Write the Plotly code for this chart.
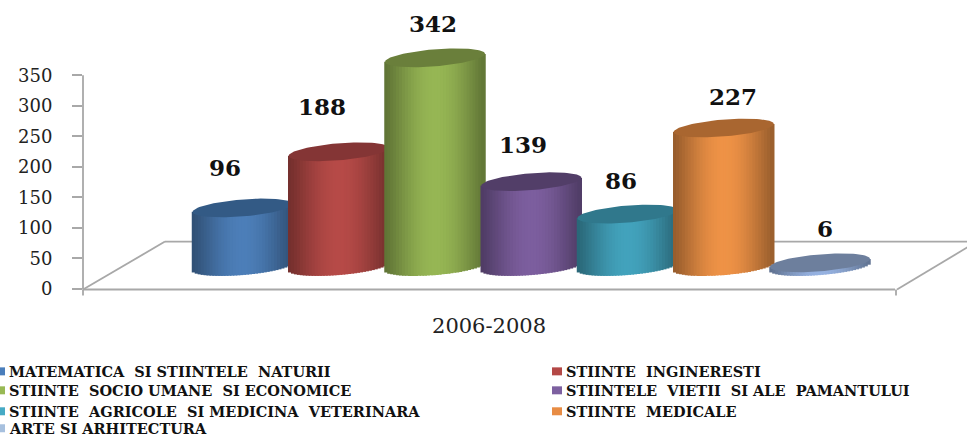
import numpy as np
import plotly.graph_objects as go

# ---------- data ----------
categories = [
    "MATEMATICA  SI STIINTELE  NATURII",
    "STIINTE  INGINERESTI",
    "STIINTE  SOCIO UMANE  SI ECONOMICE",
    "STIINTELE  VIETII  SI ALE  PAMANTULUI",
    "STIINTE  AGRICOLE  SI MEDICINA  VETERINARA",
    "STIINTE  MEDICALE",
    "ARTE SI ARHITECTURA",
]
values = [96, 188, 342, 139, 86, 227, 6]
period = "2006-2008"
y_ticks = [0, 50, 100, 150, 200, 250, 300, 350]

# ---------- styles ----------
body_rgb = [(76, 126, 184), (182, 74, 71), (150, 182, 84), (124, 94, 158),
            (66, 162, 188), (238, 146, 70), (150, 178, 225)]
top_rgb = [(51, 90, 133), (132, 53, 53), (106, 127, 59), (82, 62, 104),
           (48, 120, 140), (169, 102, 48), (109, 127, 157)]
swatch_rgb = [(74, 126, 187), (180, 72, 70), (152, 185, 84), (125, 96, 160),
              (70, 170, 197), (232, 140, 68), (167, 192, 222)]
label_dx = [-18, -17, -2, -8, -7, 9, 5]
label_dy = [40, 45, 34, 37, 34, 31, 34]

W, H = 967, 436
PLOT_L, PLOT_B = 83, 289.5
PX_PER_UNIT = 0.6114
SLOT = 96.25
FIRST = 242.5
HALF_W = 50.0
ELL_B, ELL_K = 8.5, 4.0
FLOOR_LIFT = 22.5 / PX_PER_UNIT
N = 34

x_range = [(PLOT_L - FIRST) / SLOT, (W - FIRST) / SLOT]
y_range = [0, PLOT_B / PX_PER_UNIT]
a = HALF_W / SLOT
b = ELL_B / PX_PER_UNIT
k = ELL_K / PX_PER_UNIT


def rgb(c):
    return "rgb(%d,%d,%d)" % tuple(int(round(v)) for v in c)


def px(x):
    return (x - PLOT_L) / (W - PLOT_L)


def py(y):
    return (PLOT_B - y) / PLOT_B


fig = go.Figure()
# main axes carry the frame and the labels
fig.add_trace(go.Scatter(x=[x_range[0]], y=[0], mode="markers", opacity=0,
                         showlegend=False, hoverinfo="skip"))

u = (np.arange(N) + 0.5) / N * 2 - 1
shade = 0.64 + 0.36 * np.cos((u - 0.02) * np.pi / 2) ** 1.2
for i, (name, val) in enumerate(zip(categories, values)):
    ax = str(i + 2)
    colors = [rgb(np.array(body_rgb[i]) * s) for s in shade]
    bottom = FLOOR_LIFT - b * np.sqrt(1 - u ** 2) + k * u
    top = FLOOR_LIFT + val + k * u
    fig.add_trace(go.Bar(x=i + a * u, y=top - bottom, base=bottom, width=2 * a / N * 1.5,
                         marker=dict(color=colors, line=dict(width=0)), name=name,
                         showlegend=False, hoverinfo="skip", xaxis="x" + ax, yaxis="y" + ax))
    t = np.linspace(0, 2 * np.pi, 90)
    fig.add_trace(go.Scatter(x=i + a * np.cos(t),
                             y=FLOOR_LIFT + val + b * np.sin(t) + k * np.cos(t),
                             mode="lines", fill="toself", fillcolor=rgb(top_rgb[i]),
                             line=dict(width=0, color=rgb(top_rgb[i])), name=name,
                             showlegend=False, xaxis="x" + ax, yaxis="y" + ax))

GREY = "#a8a8a8"
frame = [
    (83, 75.5, 83, 290),   # value axis
    (83, 290, 895, 290),   # floor front
    (83, 290, 165, 242),   # floor left
    (165, 242, W, 242),    # floor back
    (897, 290, 977, 242),  # floor right
    (83, 290, 83, 296),
    (896, 290, 896, 296),
]
shapes = [dict(type="line", xref="paper", yref="paper", layer="below",
               x0=px(x0), y0=py(y0), x1=px(x1), y1=py(y1),
               line=dict(color=GREY, width=1.8)) for x0, y0, x1, y1 in frame]

annotations = []
for i, val in enumerate(values):
    annotations.append(dict(x=i, y=FLOOR_LIFT + val, xref="x", yref="y", text="<b>%d</b>" % val,
                            showarrow=False, xshift=label_dx[i], yshift=label_dy[i],
                            xanchor="center", yanchor="middle",
                            font=dict(family="DejaVu Serif", size=23, color="#111111")))

rows = [372, 372, 391, 391, 412, 412, 429]
for i, name in enumerate(categories):
    left_col = i % 2 == 0
    sw_l, sw_r = (-4, 5) if left_col else (552, 562)
    tx = 7 if left_col else 564
    shapes.append(dict(type="rect", xref="paper", yref="paper",
                       x0=px(sw_l), x1=px(sw_r), y0=py(rows[i] - 4), y1=py(rows[i] + 4),
                       fillcolor=rgb(swatch_rgb[i]), line=dict(width=0)))
    annotations.append(dict(x=px(tx), y=py(rows[i]), xref="paper", yref="paper",
                            text="<b>%s</b>" % name, showarrow=False,
                            xanchor="left", yanchor="middle",
                            font=dict(family="DejaVu Serif", size=14.5, color="#111111")))

layout = dict(
    width=W, height=H, margin=dict(l=PLOT_L, r=0, t=0, b=H - PLOT_B, pad=0),
    paper_bgcolor="white", plot_bgcolor="rgba(0,0,0,0)", barmode="overlay", showlegend=False,
    xaxis=dict(range=x_range, tickmode="array", tickvals=[(489 - FIRST) / SLOT], ticktext=[period],
               showgrid=False, zeroline=False, showline=False, ticks="", ticklabelstandoff=22,
               tickfont=dict(family="DejaVu Serif", size=21, color="#222222")),
    yaxis=dict(range=y_range, tickmode="array", tickvals=y_ticks, showgrid=False, zeroline=False,
               showline=False, ticks="outside", ticklen=10, tickwidth=1.8, tickcolor=GREY,
               ticklabelstandoff=16, tickfont=dict(family="DejaVu Serif", size=18, color="#222222")),
    shapes=shapes, annotations=annotations,
)
for i in range(len(values)):
    ax = str(i + 2)
    layout["xaxis" + ax] = dict(range=x_range, overlaying="x", visible=False, anchor="y" + ax)
    layout["yaxis" + ax] = dict(range=y_range, overlaying="y", visible=False, anchor="x" + ax)
fig.update_layout(**layout)

fig.write_html("out.html", config={"displayModeBar": False},
               post_script="document.body.style.margin='0';document.body.style.overflow='hidden';")
